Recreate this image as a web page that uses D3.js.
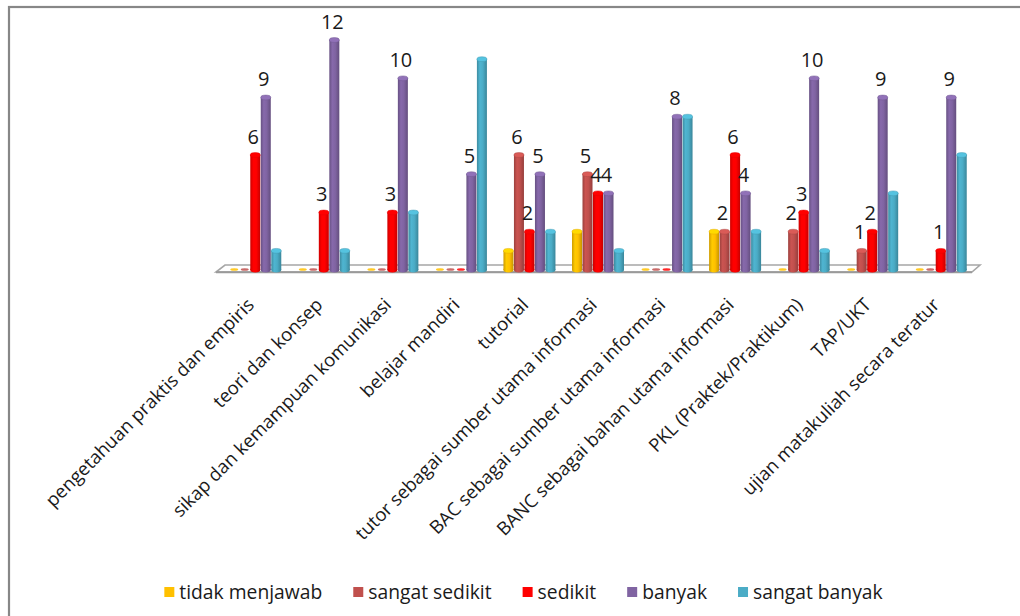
<!DOCTYPE html>
<html>
<head>
<meta charset="utf-8">
<script src="https://cdn.jsdelivr.net/npm/d3@7"></script>
<style>
  html, body { margin: 0; padding: 0; background: #fff; }
  svg { display: block; }
  text { font-family: "Open Sans", "Noto Sans", sans-serif; fill: #1a1a1a; }
</style>
</head>
<body>
<svg id="chart" width="1020" height="616"></svg>
<script>
const categories = [
  "pengetahuan praktis dan empiris",
  "teori dan konsep",
  "sikap dan kemampuan komunikasi",
  "belajar mandiri",
  "tutorial",
  "tutor sebagai sumber utama informasi",
  "BAC sebagai sumber utama informasi",
  "BANC sebagai bahan utama informasi",
  "PKL (Praktek/Praktikum)",
  "TAP/UKT",
  "ujian matakuliah secara teratur"
];
const seriesNames = ["tidak menjawab", "sangat sedikit", "sedikit", "banyak", "sangat banyak"];
const tidakMenjawab = [0, 0, 0, 0, 1, 2, 0, 2, 0, 0, 0];
const sangatSedikit = [0, 0, 0, 0, 6, 5, 0, 2, 2, 1, 0];
const sedikit       = [6, 3, 3, 0, 2, 4, 0, 6, 3, 2, 1];
const banyak        = [9, 12, 10, 5, 5, 4, 8, 4, 10, 9, 9];
const sangatBanyak  = [1, 1, 3, 11, 2, 1, 8, 2, 1, 4, 6];
const seriesColors = ["#FFC000", "#C0504D", "#FF0000", "#8064A2", "#4BACC6"];
const labeledSeries = ["sangat sedikit", "sedikit", "banyak"];

const seriesValues = [tidakMenjawab, sangatSedikit, sedikit, banyak, sangatBanyak];

const svg = d3.select("#chart");

// frame
svg.append("rect").attr("x", 9).attr("y", 7).attr("width", 1100).attr("height", 700)
  .attr("fill", "none").attr("stroke", "#878787").attr("stroke-width", 2.2);

const x = d3.scaleBand().domain(categories).range([221, 975]).paddingInner(0).paddingOuter(0);
const xs = d3.scaleBand().domain(seriesNames).range([-x.bandwidth() * 0.383, x.bandwidth() * 0.383]);
const y = d3.scaleLinear().domain([0, 12]).range([270, 40]);
const color = d3.scaleOrdinal().domain(seriesNames).range(seriesColors);

// gradients for cylinders
const defs = svg.append("defs");
seriesNames.forEach((s, i) => {
  const c = d3.color(color(s));
  const g = defs.append("linearGradient").attr("id", "g" + i)
    .attr("x1", "0%").attr("x2", "100%").attr("y1", "0%").attr("y2", "0%");
  g.append("stop").attr("offset", "0%").attr("stop-color", c.darker(0.6));
  g.append("stop").attr("offset", "30%").attr("stop-color", c.brighter(0.15));
  g.append("stop").attr("offset", "60%").attr("stop-color", c);
  g.append("stop").attr("offset", "100%").attr("stop-color", c.darker(0.7));
});

// floor
const [r0, r1] = x.range();
const y0 = y(0);
svg.append("polygon")
  .attr("points", [[r0 - 5, y0 + 2], [r1 - 3, y0 + 2], [r1 + 5, y0 - 5], [r0 + 4, y0 - 5]].map(p => p.join(",")).join(" "))
  .attr("fill", "#ffffff").attr("stroke", "#a6a6a6").attr("stroke-width", 1.6);
svg.append("line").attr("x1", r0 - 5).attr("x2", r1 - 3).attr("y1", y0 + 2.2).attr("y2", y0 + 2.2)
  .attr("stroke", "#9a9a9a").attr("stroke-width", 2);

const bw = 10;
const rx = bw / 2, ry = 2.4;

// bars
const rows = [];
categories.forEach((c, ci) => {
  seriesNames.forEach((s, si) => {
    rows.push({ cat: c, series: s, si: si, value: seriesValues[si][ci] });
  });
});

const barG = svg.append("g");
rows.forEach(d => {
  const cx = x(d.cat) + x.bandwidth() / 2 + xs(d.series) + xs.bandwidth() / 2;
  const base = color(d.series);
  if (d.value === 0) {
    barG.append("ellipse").attr("cx", cx).attr("cy", y0 - 0.5).attr("rx", 4).attr("ry", 1.3)
      .attr("fill", base).attr("opacity", 0.85);
    return;
  }
  const top = y(d.value);
  barG.append("ellipse").attr("cx", cx).attr("cy", y0).attr("rx", rx).attr("ry", ry)
    .attr("fill", `url(#g${d.si})`);
  barG.append("rect").attr("x", cx - rx).attr("y", top).attr("width", bw).attr("height", y0 - top)
    .attr("fill", `url(#g${d.si})`);
  barG.append("ellipse").attr("cx", cx).attr("cy", top).attr("rx", rx).attr("ry", ry)
    .attr("fill", d3.color(base).brighter(0.35)).attr("stroke", d3.color(base).darker(0.3)).attr("stroke-width", 0.5);
});

// data labels
rows.filter(d => labeledSeries.includes(d.series) && d.value > 0).forEach(d => {
  const cx = x(d.cat) + x.bandwidth() / 2 + xs(d.series) + xs.bandwidth() / 2;
  svg.append("text").attr("x", cx - 2).attr("y", y(d.value) - 11.5)
    .attr("text-anchor", "middle").attr("font-size", 20).text(d.value);
});

// category labels
categories.forEach(c => {
  const cx = x(c) + x.bandwidth() / 2;
  svg.append("text")
    .attr("transform", `translate(${cx},${306}) rotate(-45)`)
    .attr("text-anchor", "end").attr("font-size", 18.5).text(c);
});

// legend
const legend = svg.append("g");
let lx = 0;
seriesNames.forEach(s => {
  const g = legend.append("g").attr("transform", `translate(${lx},0)`);
  g.append("rect").attr("x", 0).attr("y", -5).attr("width", 10).attr("height", 10).attr("fill", color(s));
  const t = g.append("text").attr("x", 15).attr("y", 0).attr("dy", "0.35em").attr("font-size", 19.3).text(s);
  const w = t.node().getComputedTextLength();
  lx += 15 + w + 31;
});
const totalW = lx - 31;
legend.attr("transform", `translate(${523.5 - totalW / 2},592)`);
</script>
</body>
</html>
